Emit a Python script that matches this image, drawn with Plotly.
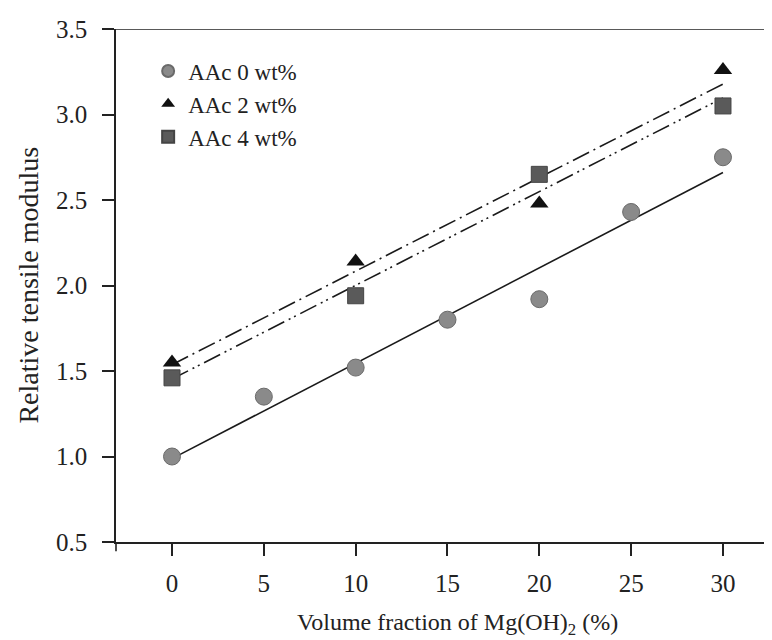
import numpy as np
import plotly.graph_objects as go

# Data
x_aac0 = [0, 5, 10, 15, 20, 25, 30]
y_aac0 = [1.00, 1.35, 1.52, 1.80, 1.92, 2.43, 2.75]
x_aac2 = [0, 10, 20, 30]
y_aac2 = [1.55, 2.14, 2.48, 3.26]
x_aac4 = [0, 10, 20, 30]
y_aac4 = [1.46, 1.94, 2.65, 3.05]
names = ["AAc 0 wt%", "AAc 2 wt%", "AAc 4 wt%"]
x_ticks = [0, 5, 10, 15, 20, 25, 30]
y_ticks = [0.5, 1.0, 1.5, 2.0, 2.5, 3.0, 3.5]
x_title = "Volume fraction of Mg(OH)<sub>2</sub> (%)"
y_title = "Relative tensile modulus"

FONT = "Liberation Serif"
INK = "#222222"

fig = go.Figure()

def fit_line(xs, ys):
    k, b = np.polyfit(xs, ys, 1)
    xx = np.array([min(xs), max(xs)], dtype=float)
    return xx, k * xx + b

# regression lines
for xs, ys, dash in [(x_aac0, y_aac0, "solid"),
                     (x_aac2, y_aac2, "18px,5px,2px,5px"),
                     (x_aac4, y_aac4, "18px,5px,2px,4px,2px,5px")]:
    lx, ly = fit_line(xs, ys)
    fig.add_trace(go.Scatter(x=lx, y=ly, mode="lines", showlegend=False,
                             line=dict(color="#1a1a1a", width=1.6, dash=dash),
                             hoverinfo="skip"))

# markers
fig.add_trace(go.Scatter(x=x_aac0, y=y_aac0, mode="markers", name=names[0],
                         marker=dict(symbol="circle", size=17, color="#8a8a8a",
                                     line=dict(color="#6a6a6a", width=1))))
fig.add_trace(go.Scatter(x=x_aac2, y=y_aac2, mode="markers", name=names[1],
                         marker=dict(symbol="triangle-up", size=16, color="#111111",
                                     line=dict(color="#111111", width=0))))
fig.add_trace(go.Scatter(x=x_aac4, y=y_aac4, mode="markers", name=names[2],
                         marker=dict(symbol="square", size=16, color="#5a5a5a",
                                     line=dict(color="#444444", width=1))))

fig.update_layout(
    width=772, height=640,
    margin=dict(l=108, r=8, t=14, b=106),
    paper_bgcolor="white", plot_bgcolor="white",
    font=dict(family=FONT, size=24, color=INK),
    legend=dict(x=0.049, y=0.96, xanchor="left", yanchor="top",
                bgcolor="rgba(0,0,0,0)", font=dict(family=FONT, size=23),
                itemsizing="constant", tracegroupgap=0),
    xaxis=dict(range=[-3.05, 32.67], tickvals=x_ticks, ticktext=[str(v) for v in x_ticks],
               showgrid=False, zeroline=False, showline=True, linecolor=INK,
               linewidth=1.6, ticks="outside", ticklen=12, tickwidth=1.6,
               tickcolor=INK, mirror=False, tickfont=dict(size=25),
               ticklabelstandoff=6),
    yaxis=dict(range=[0.5, 3.5], tickvals=y_ticks,
               ticktext=["%.1f" % v for v in y_ticks],
               showgrid=False, zeroline=False, showline=True, linecolor=INK,
               linewidth=1.6, ticks="outside", ticklen=12, tickwidth=1.6,
               tickcolor=INK, mirror=False, tickfont=dict(size=25),
               ticklabelstandoff=10),
    showlegend=True,
)

# axis titles
fig.add_annotation(text=x_title, xref="paper", yref="paper", x=0.52, y=-0.16,
                   xanchor="center", yanchor="middle", showarrow=False,
                   font=dict(family=FONT, size=24, color=INK))
fig.add_annotation(text=y_title, xref="paper", yref="paper", x=-0.134, y=0.5,
                   xanchor="center", yanchor="middle", showarrow=False, textangle=-90,
                   font=dict(family=FONT, size=28, color=INK))

# top frame line and small extension of the y axis below the x axis
fig.add_shape(type="line", xref="paper", yref="y", x0=0, x1=1, y0=3.5, y1=3.5,
              line=dict(color=INK, width=1.6))
fig.add_shape(type="line", xref="paper", yref="paper", x0=0, x1=0, y0=0, y1=-0.018,
              line=dict(color=INK, width=1.6))

fig.write_html("out.html")
